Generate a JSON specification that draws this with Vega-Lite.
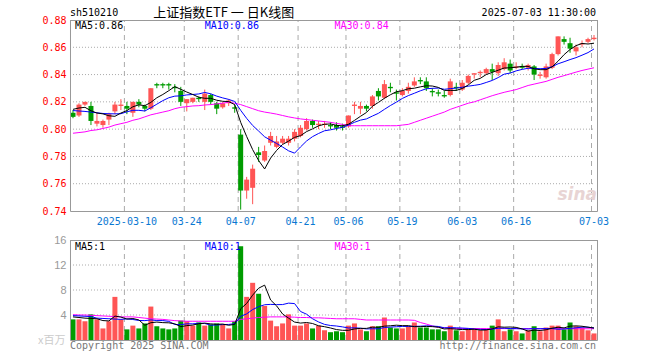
{
  "$schema": "https://vega.github.io/schema/vega-lite/v6.json",
  "autosize": {"type": "none"},
  "padding": {"left": 70, "top": 20, "right": 590, "bottom": 340},
  "background": "#ffffff",
  "spacing": 29,
  "bounds": "flush",
  "config": {
    "view": {"stroke": "#999999", "strokeWidth": 1},
    "axis": {"labelFont": "DejaVu Sans Mono", "labelFontSize": 10, "ticks": false, "domain": false, "grid": false, "labelFlush": false, "labelOverlap": false},
    "text": {"font": "DejaVu Sans Mono", "fontSize": 10}
  },
  "datasets": {
    "k": [
      {"d":"2025-02-25","o":0.812,"h":0.814,"l":0.808,"c":0.809,"m5":0.8145,"m10":0.8136,"m30":0.797,"v":3.3,"v5":3.7,"v10":3.9,"v30":4.05},
      {"d":"2025-02-26","o":0.810,"h":0.819,"l":0.809,"c":0.818,"m5":0.8155,"m10":0.8133,"m30":0.7975,"v":3.3,"v5":3.6,"v10":3.85,"v30":4.0},
      {"d":"2025-02-27","o":0.818,"h":0.820,"l":0.817,"c":0.820,"m5":0.816,"m10":0.813,"m30":0.798,"v":3.0,"v5":3.5,"v10":3.8,"v30":4.0},
      {"d":"2025-02-28","o":0.817,"h":0.820,"l":0.803,"c":0.806,"m5":0.8135,"m10":0.8125,"m30":0.799,"v":4.1,"v5":3.45,"v10":3.75,"v30":3.95},
      {"d":"2025-03-03","o":0.804,"h":0.812,"l":0.802,"c":0.806,"m5":0.8118,"m10":0.812,"m30":0.7995,"v":3.3,"v5":3.4,"v10":3.5,"v30":3.9},
      {"d":"2025-03-04","o":0.803,"h":0.807,"l":0.801,"c":0.806,"m5":0.8112,"m10":0.8115,"m30":0.8005,"v":1.85,"v5":3.11,"v10":3.45,"v30":3.85},
      {"d":"2025-03-05","o":0.807,"h":0.812,"l":0.803,"c":0.811,"m5":0.8098,"m10":0.8113,"m30":0.8015,"v":3.0,"v5":3.05,"v10":3.4,"v30":3.8},
      {"d":"2025-03-06","o":0.813,"h":0.820,"l":0.811,"c":0.818,"m5":0.8094,"m10":0.8112,"m30":0.803,"v":6.9,"v5":3.83,"v10":3.35,"v30":3.75},
      {"d":"2025-03-07","o":0.817,"h":0.822,"l":0.814,"c":0.818,"m5":0.8118,"m10":0.8113,"m30":0.804,"v":3.3,"v5":3.67,"v10":3.3,"v30":3.7},
      {"d":"2025-03-10","o":0.817,"h":0.820,"l":0.811,"c":0.815,"m5":0.8136,"m10":0.8127,"m30":0.805,"v":1.7,"v5":3.35,"v10":3.38,"v30":3.7},
      {"d":"2025-03-11","o":0.812,"h":0.820,"l":0.809,"c":0.820,"m5":0.8164,"m10":0.8138,"m30":0.8065,"v":2.3,"v5":3.44,"v10":3.28,"v30":3.7},
      {"d":"2025-03-12","o":0.820,"h":0.822,"l":0.816,"c":0.818,"m5":0.8178,"m10":0.8138,"m30":0.8075,"v":1.85,"v5":3.21,"v10":3.13,"v30":3.6},
      {"d":"2025-03-13","o":0.817,"h":0.818,"l":0.813,"c":0.815,"m5":0.8172,"m10":0.8133,"m30":0.809,"v":2.65,"v5":2.36,"v10":3.1,"v30":3.5},
      {"d":"2025-03-14","o":0.815,"h":0.830,"l":0.814,"c":0.830,"m5":0.8196,"m10":0.8157,"m30":0.8105,"v":5.35,"v5":2.77,"v10":3.22,"v30":3.4},
      {"d":"2025-03-17","o":0.833,"h":0.834,"l":0.830,"c":0.832,"m5":0.823,"m10":0.8183,"m30":0.8115,"v":2.2,"v5":2.87,"v10":3.11,"v30":3.35},
      {"d":"2025-03-18","o":0.833,"h":0.834,"l":0.830,"c":0.832,"m5":0.8254,"m10":0.8209,"m30":0.8125,"v":1.85,"v5":2.78,"v10":3.11,"v30":3.3},
      {"d":"2025-03-19","o":0.833,"h":0.834,"l":0.829,"c":0.832,"m5":0.8282,"m10":0.823,"m30":0.8135,"v":1.7,"v5":2.75,"v10":2.98,"v30":3.2},
      {"d":"2025-03-20","o":0.831,"h":0.833,"l":0.827,"c":0.830,"m5":0.8312,"m10":0.8242,"m30":0.815,"v":1.85,"v5":2.59,"v10":2.48,"v30":3.1},
      {"d":"2025-03-21","o":0.828,"h":0.831,"l":0.817,"c":0.820,"m5":0.8292,"m10":0.8244,"m30":0.816,"v":3.1,"v5":2.14,"v10":2.46,"v30":3.05},
      {"d":"2025-03-24","o":0.819,"h":0.822,"l":0.813,"c":0.822,"m5":0.8272,"m10":0.8251,"m30":0.8165,"v":3.0,"v5":2.3,"v10":2.59,"v30":3.0},
      {"d":"2025-03-25","o":0.820,"h":0.823,"l":0.819,"c":0.823,"m5":0.8254,"m10":0.8254,"m30":0.817,"v":2.3,"v5":2.39,"v10":2.59,"v30":3.0},
      {"d":"2025-03-26","o":0.823,"h":0.824,"l":0.820,"c":0.822,"m5":0.8234,"m10":0.8258,"m30":0.8172,"v":2.8,"v5":2.61,"v10":2.68,"v30":3.0},
      {"d":"2025-03-27","o":0.820,"h":0.829,"l":0.814,"c":0.826,"m5":0.8226,"m10":0.8269,"m30":0.8177,"v":2.3,"v5":2.7,"v10":2.65,"v30":3.0},
      {"d":"2025-03-28","o":0.825,"h":0.826,"l":0.818,"c":0.820,"m5":0.8226,"m10":0.8259,"m30":0.818,"v":2.5,"v5":2.58,"v10":2.36,"v30":3.0},
      {"d":"2025-03-31","o":0.819,"h":0.820,"l":0.811,"c":0.815,"m5":0.8212,"m10":0.8242,"m30":0.8185,"v":2.65,"v5":2.51,"v10":2.41,"v30":3.0},
      {"d":"2025-04-01","o":0.816,"h":0.820,"l":0.815,"c":0.819,"m5":0.8204,"m10":0.8229,"m30":0.819,"v":2.5,"v5":2.55,"v10":2.47,"v30":3.0},
      {"d":"2025-04-02","o":0.819,"h":0.822,"l":0.817,"c":0.821,"m5":0.8202,"m10":0.8218,"m30":0.8198,"v":1.85,"v5":2.36,"v10":2.49,"v30":3.0},
      {"d":"2025-04-03","o":0.816,"h":0.818,"l":0.812,"c":0.815,"m5":0.818,"m10":0.8203,"m30":0.819,"v":3.0,"v5":2.5,"v10":2.6,"v30":3.0},
      {"d":"2025-04-07","o":0.796,"h":0.800,"l":0.741,"c":0.755,"m5":0.805,"m10":0.8138,"m30":0.818,"v":15.0,"v5":5.0,"v10":3.79,"v30":3.3},
      {"d":"2025-04-08","o":0.755,"h":0.765,"l":0.749,"c":0.763,"m5":0.7946,"m10":0.8079,"m30":0.8165,"v":6.9,"v5":5.85,"v10":4.18,"v30":3.4},
      {"d":"2025-04-09","o":0.757,"h":0.774,"l":0.745,"c":0.771,"m5":0.785,"m10":0.8027,"m30":0.815,"v":9.15,"v5":7.18,"v10":4.87,"v30":3.5},
      {"d":"2025-04-10","o":0.783,"h":0.787,"l":0.776,"c":0.781,"m5":0.777,"m10":0.7986,"m30":0.8135,"v":7.4,"v5":8.29,"v10":5.33,"v30":3.6},
      {"d":"2025-04-11","o":0.777,"h":0.788,"l":0.776,"c":0.784,"m5":0.7708,"m10":0.7944,"m30":0.8125,"v":5.45,"v5":8.78,"v10":5.64,"v30":3.65},
      {"d":"2025-04-14","o":0.790,"h":0.798,"l":0.788,"c":0.795,"m5":0.7788,"m10":0.7919,"m30":0.8118,"v":3.1,"v5":6.4,"v10":5.7,"v30":3.7},
      {"d":"2025-04-15","o":0.787,"h":0.795,"l":0.786,"c":0.791,"m5":0.7844,"m10":0.7895,"m30":0.811,"v":2.2,"v5":5.46,"v10":5.66,"v30":3.7},
      {"d":"2025-04-16","o":0.790,"h":0.795,"l":0.789,"c":0.793,"m5":0.7888,"m10":0.7869,"m30":0.810,"v":2.65,"v5":4.16,"v10":5.67,"v30":3.7},
      {"d":"2025-04-17","o":0.790,"h":0.795,"l":0.788,"c":0.793,"m5":0.7912,"m10":0.7841,"m30":0.809,"v":4.1,"v5":3.5,"v10":5.9,"v30":3.7},
      {"d":"2025-04-18","o":0.793,"h":0.800,"l":0.791,"c":0.798,"m5":0.794,"m10":0.7824,"m30":0.8082,"v":2.3,"v5":2.87,"v10":5.83,"v30":3.65},
      {"d":"2025-04-21","o":0.795,"h":0.803,"l":0.794,"c":0.801,"m5":0.7952,"m10":0.787,"m30":0.8075,"v":2.3,"v5":2.71,"v10":4.56,"v30":3.6},
      {"d":"2025-04-22","o":0.800,"h":0.808,"l":0.799,"c":0.806,"m5":0.7982,"m10":0.7913,"m30":0.807,"v":2.65,"v5":2.8,"v10":4.13,"v30":3.6},
      {"d":"2025-04-23","o":0.806,"h":0.807,"l":0.801,"c":0.803,"m5":0.8002,"m10":0.7945,"m30":0.8065,"v":1.85,"v5":2.64,"v10":3.4,"v30":3.55},
      {"d":"2025-04-24","o":0.803,"h":0.806,"l":0.800,"c":0.804,"m5":0.8024,"m10":0.7968,"m30":0.806,"v":2.3,"v5":2.28,"v10":2.89,"v30":3.55},
      {"d":"2025-04-25","o":0.803,"h":0.806,"l":0.801,"c":0.804,"m5":0.8036,"m10":0.7988,"m30":0.8055,"v":1.55,"v5":2.13,"v10":2.5,"v30":3.5},
      {"d":"2025-04-28","o":0.803,"h":0.805,"l":0.800,"c":0.802,"m5":0.8038,"m10":0.7995,"m30":0.805,"v":1.25,"v5":1.92,"v10":2.32,"v30":3.45},
      {"d":"2025-04-29","o":0.803,"h":0.805,"l":0.799,"c":0.801,"m5":0.8028,"m10":0.8005,"m30":0.8042,"v":1.4,"v5":1.67,"v10":2.24,"v30":3.4},
      {"d":"2025-04-30","o":0.802,"h":0.804,"l":0.799,"c":0.801,"m5":0.8024,"m10":0.8013,"m30":0.8035,"v":1.25,"v5":1.55,"v10":2.1,"v30":3.4},
      {"d":"2025-05-06","o":0.802,"h":0.810,"l":0.801,"c":0.810,"m5":0.8036,"m10":0.803,"m30":0.8025,"v":2.3,"v5":1.55,"v10":1.92,"v30":3.4},
      {"d":"2025-05-07","o":0.817,"h":0.820,"l":0.811,"c":0.818,"m5":0.8064,"m10":0.805,"m30":0.8025,"v":2.65,"v5":1.77,"v10":1.95,"v30":3.4},
      {"d":"2025-05-08","o":0.815,"h":0.820,"l":0.811,"c":0.817,"m5":0.8094,"m10":0.8066,"m30":0.8025,"v":1.7,"v5":1.86,"v10":1.89,"v30":3.3},
      {"d":"2025-05-09","o":0.817,"h":0.818,"l":0.813,"c":0.815,"m5":0.8122,"m10":0.8075,"m30":0.8025,"v":1.4,"v5":1.86,"v10":1.77,"v30":3.2},
      {"d":"2025-05-12","o":0.817,"h":0.825,"l":0.815,"c":0.824,"m5":0.8168,"m10":0.8096,"m30":0.8025,"v":2.2,"v5":2.05,"v10":1.8,"v30":3.2},
      {"d":"2025-05-13","o":0.828,"h":0.830,"l":0.821,"c":0.824,"m5":0.8196,"m10":0.8116,"m30":0.8025,"v":2.2,"v5":2.03,"v10":1.79,"v30":3.2},
      {"d":"2025-05-14","o":0.823,"h":0.836,"l":0.822,"c":0.833,"m5":0.8226,"m10":0.8145,"m30":0.8025,"v":3.6,"v5":2.22,"v10":2.0,"v30":3.2},
      {"d":"2025-05-15","o":0.831,"h":0.834,"l":0.827,"c":0.830,"m5":0.8252,"m10":0.8173,"m30":0.8025,"v":2.0,"v5":2.28,"v10":2.07,"v30":3.2},
      {"d":"2025-05-16","o":0.827,"h":0.829,"l":0.821,"c":0.826,"m5":0.8274,"m10":0.8198,"m30":0.8025,"v":1.85,"v5":2.37,"v10":2.12,"v30":3.2},
      {"d":"2025-05-19","o":0.825,"h":0.830,"l":0.824,"c":0.828,"m5":0.8282,"m10":0.8225,"m30":0.803,"v":1.85,"v5":2.3,"v10":2.18,"v30":3.2},
      {"d":"2025-05-20","o":0.828,"h":0.834,"l":0.826,"c":0.831,"m5":0.8296,"m10":0.8246,"m30":0.8035,"v":2.2,"v5":2.3,"v10":2.17,"v30":3.2},
      {"d":"2025-05-21","o":0.832,"h":0.838,"l":0.831,"c":0.835,"m5":0.830,"m10":0.8263,"m30":0.805,"v":2.8,"v5":2.14,"v10":2.18,"v30":3.15},
      {"d":"2025-05-22","o":0.836,"h":0.838,"l":0.833,"c":0.835,"m5":0.831,"m10":0.8281,"m30":0.8065,"v":2.0,"v5":2.14,"v10":2.21,"v30":2.8},
      {"d":"2025-05-23","o":0.835,"h":0.838,"l":0.828,"c":0.830,"m5":0.8318,"m10":0.8296,"m30":0.808,"v":2.0,"v5":2.17,"v10":2.27,"v30":2.55},
      {"d":"2025-05-26","o":0.828,"h":0.830,"l":0.824,"c":0.827,"m5":0.8316,"m10":0.8299,"m30":0.8095,"v":1.7,"v5":2.14,"v10":2.22,"v30":2.25},
      {"d":"2025-05-27","o":0.827,"h":0.829,"l":0.824,"c":0.826,"m5":0.8306,"m10":0.8301,"m30":0.811,"v":1.7,"v5":2.04,"v10":2.17,"v30":2.05},
      {"d":"2025-05-28","o":0.825,"h":0.828,"l":0.823,"c":0.824,"m5":0.8284,"m10":0.8292,"m30":0.8125,"v":1.4,"v5":1.76,"v10":1.95,"v30":1.95},
      {"d":"2025-05-29","o":0.825,"h":0.837,"l":0.824,"c":0.835,"m5":0.8284,"m10":0.8297,"m30":0.8145,"v":2.3,"v5":1.82,"v10":1.98,"v30":1.9},
      {"d":"2025-05-30","o":0.831,"h":0.834,"l":0.828,"c":0.830,"m5":0.8284,"m10":0.8301,"m30":0.816,"v":1.55,"v5":1.73,"v10":1.95,"v30":1.85},
      {"d":"2025-06-03","o":0.829,"h":0.836,"l":0.828,"c":0.834,"m5":0.8298,"m10":0.8307,"m30":0.8175,"v":1.4,"v5":1.67,"v10":1.91,"v30":1.85},
      {"d":"2025-06-04","o":0.834,"h":0.840,"l":0.833,"c":0.839,"m5":0.8324,"m10":0.8315,"m30":0.819,"v":1.7,"v5":1.67,"v10":1.86,"v30":1.84},
      {"d":"2025-06-05","o":0.840,"h":0.841,"l":0.837,"c":0.841,"m5":0.8358,"m10":0.8321,"m30":0.820,"v":1.7,"v5":1.73,"v10":1.75,"v30":1.84},
      {"d":"2025-06-06","o":0.841,"h":0.843,"l":0.838,"c":0.842,"m5":0.8372,"m10":0.8328,"m30":0.8215,"v":1.55,"v5":1.58,"v10":1.7,"v30":1.83},
      {"d":"2025-06-09","o":0.841,"h":0.845,"l":0.840,"c":0.844,"m5":0.840,"m10":0.8342,"m30":0.823,"v":1.7,"v5":1.61,"v10":1.67,"v30":1.83},
      {"d":"2025-06-10","o":0.844,"h":0.848,"l":0.836,"c":0.842,"m5":0.8416,"m10":0.8357,"m30":0.8245,"v":2.3,"v5":1.79,"v10":1.73,"v30":1.83},
      {"d":"2025-06-11","o":0.841,"h":0.849,"l":0.839,"c":0.847,"m5":0.8432,"m10":0.8378,"m30":0.8258,"v":3.3,"v5":2.11,"v10":1.89,"v30":1.83},
      {"d":"2025-06-12","o":0.844,"h":0.852,"l":0.843,"c":0.849,"m5":0.8448,"m10":0.8403,"m30":0.827,"v":1.4,"v5":2.05,"v10":1.89,"v30":1.82},
      {"d":"2025-06-13","o":0.848,"h":0.851,"l":0.841,"c":0.843,"m5":0.845,"m10":0.8411,"m30":0.828,"v":1.7,"v5":2.08,"v10":1.83,"v30":1.82},
      {"d":"2025-06-16","o":0.845,"h":0.849,"l":0.844,"c":0.846,"m5":0.8454,"m10":0.8427,"m30":0.829,"v":1.4,"v5":2.02,"v10":1.82,"v30":1.82},
      {"d":"2025-06-17","o":0.846,"h":0.848,"l":0.844,"c":0.845,"m5":0.846,"m10":0.8438,"m30":0.8305,"v":1.05,"v5":1.77,"v10":1.78,"v30":1.82},
      {"d":"2025-06-18","o":0.845,"h":0.848,"l":0.843,"c":0.847,"m5":0.846,"m10":0.8446,"m30":0.832,"v":1.55,"v5":1.42,"v10":1.77,"v30":1.82},
      {"d":"2025-06-19","o":0.846,"h":0.847,"l":0.836,"c":0.840,"m5":0.8442,"m10":0.8445,"m30":0.833,"v":2.2,"v5":1.58,"v10":1.82,"v30":1.81},
      {"d":"2025-06-20","o":0.839,"h":0.842,"l":0.837,"c":0.840,"m5":0.8436,"m10":0.8443,"m30":0.834,"v":1.4,"v5":1.52,"v10":1.8,"v30":1.81},
      {"d":"2025-06-23","o":0.838,"h":0.848,"l":0.837,"c":0.846,"m5":0.8436,"m10":0.8445,"m30":0.835,"v":2.0,"v5":1.64,"v10":1.83,"v30":1.81},
      {"d":"2025-06-24","o":0.845,"h":0.856,"l":0.844,"c":0.855,"m5":0.8456,"m10":0.8458,"m30":0.8365,"v":2.3,"v5":1.89,"v10":1.83,"v30":1.81},
      {"d":"2025-06-25","o":0.855,"h":0.868,"l":0.854,"c":0.868,"m5":0.8498,"m10":0.8479,"m30":0.838,"v":2.3,"v5":2.04,"v10":1.73,"v30":1.81},
      {"d":"2025-06-26","o":0.866,"h":0.868,"l":0.862,"c":0.864,"m5":0.8546,"m10":0.8494,"m30":0.8392,"v":1.7,"v5":1.94,"v10":1.76,"v30":1.8},
      {"d":"2025-06-27","o":0.863,"h":0.867,"l":0.856,"c":0.859,"m5":0.8584,"m10":0.851,"m30":0.8405,"v":2.8,"v5":2.22,"v10":1.87,"v30":1.8},
      {"d":"2025-06-30","o":0.857,"h":0.862,"l":0.854,"c":0.860,"m5":0.8612,"m10":0.8524,"m30":0.8418,"v":2.2,"v5":2.26,"v10":1.95,"v30":1.8},
      {"d":"2025-07-01","o":0.862,"h":0.865,"l":0.860,"c":0.863,"m5":0.8628,"m10":0.8542,"m30":0.843,"v":2.0,"v5":2.2,"v10":2.05,"v30":1.8},
      {"d":"2025-07-02","o":0.864,"h":0.867,"l":0.863,"c":0.866,"m5":0.8624,"m10":0.8561,"m30":0.844,"v":1.55,"v5":2.05,"v10":2.05,"v30":1.8},
      {"d":"2025-07-03","o":0.866,"h":0.869,"l":0.865,"c":0.867,"m5":0.863,"m10":0.8588,"m30":0.845,"v":1.05,"v5":1.92,"v10":1.93,"v30":1.8}
    ]
  },
  "vconcat": [
    {
      "width": 527,
      "height": 191,
      "resolve": {"axis": {"x": "independent", "y": "independent"}},
      "layer": [
        {
          "data": {"name": "k"},
          "transform": [{"filter": {"field": "d", "oneOf": ["2025-03-10","2025-03-24","2025-04-07","2025-04-21","2025-05-06","2025-05-19","2025-06-03","2025-06-16","2025-07-03"]}}],
          "mark": {"type": "rule", "color": "#aaaaaa", "strokeWidth": 1, "strokeDash": [5, 4], "xOffset": -2.5},
          "encoding": {"x": {"field": "d", "type": "ordinal", "axis": null}, "y": {"datum": 0.74, "type": "quantitative", "axis": null}, "y2": {"datum": 0.88}}
        },
        {"data": {"name": "k"}, "mark": {"type": "line", "color": "#aaaaaa", "strokeWidth": 1, "strokeDash": [1, 2]}, "encoding": {"x": {"field": "d", "type": "ordinal", "axis": null}, "y": {"datum": 0.76, "type": "quantitative", "axis": null}}},
        {"data": {"name": "k"}, "mark": {"type": "line", "color": "#aaaaaa", "strokeWidth": 1, "strokeDash": [1, 2]}, "encoding": {"x": {"field": "d", "type": "ordinal", "axis": null}, "y": {"datum": 0.78, "type": "quantitative", "axis": null}}},
        {"data": {"name": "k"}, "mark": {"type": "line", "color": "#aaaaaa", "strokeWidth": 1, "strokeDash": [1, 2]}, "encoding": {"x": {"field": "d", "type": "ordinal", "axis": null}, "y": {"datum": 0.80, "type": "quantitative", "axis": null}}},
        {"data": {"name": "k"}, "mark": {"type": "line", "color": "#aaaaaa", "strokeWidth": 1, "strokeDash": [1, 2]}, "encoding": {"x": {"field": "d", "type": "ordinal", "axis": null}, "y": {"datum": 0.82, "type": "quantitative", "axis": null}}},
        {"data": {"name": "k"}, "mark": {"type": "line", "color": "#aaaaaa", "strokeWidth": 1, "strokeDash": [1, 2]}, "encoding": {"x": {"field": "d", "type": "ordinal", "axis": null}, "y": {"datum": 0.84, "type": "quantitative", "axis": null}}},
        {"data": {"name": "k"}, "mark": {"type": "line", "color": "#aaaaaa", "strokeWidth": 1, "strokeDash": [1, 2]}, "encoding": {"x": {"field": "d", "type": "ordinal", "axis": null}, "y": {"datum": 0.86, "type": "quantitative", "axis": null}}},
        {
          "data": {"name": "k"},
          "mark": {"type": "rule", "strokeWidth": 1},
          "encoding": {
            "x": {"field": "d", "type": "ordinal", "scale": {"type": "band", "paddingInner": 0, "paddingOuter": 0},
              "axis": {"orient": "bottom", "title": null, "values": ["2025-03-10","2025-03-24","2025-04-07","2025-04-21","2025-05-06","2025-05-19","2025-06-03","2025-06-16","2025-07-03"],
                "labelExpr": "datum.value == '2025-03-10' ? datum.value : substring(datum.value, 5)",
                "bandPosition": 0.07, "labelAngle": 0, "labelColor": "#0a78d2", "labelPadding": 5, "labelOverlap": false, "grid": false}},
            "y": {"field": "l", "type": "quantitative", "scale": {"domain": [0.74, 0.88], "nice": false, "zero": false},
              "axis": {"orient": "left", "title": null, "values": [0.74, 0.76, 0.78, 0.8, 0.82, 0.84, 0.86, 0.88], "format": ".2f", "labelColor": "#ff0000", "labelPadding": 4, "labelOverlap": false, "grid": false}},
            "y2": {"field": "h"},
            "color": {"condition": {"test": "datum.c >= datum.o", "value": "#ff5555"}, "value": "#009c00"}
          }
        },
        {
          "data": {"name": "k"},
          "mark": {"type": "bar", "width": 5},
          "encoding": {
            "x": {"field": "d", "type": "ordinal", "axis": null},
            "y": {"field": "o", "type": "quantitative", "axis": null},
            "y2": {"field": "c"},
            "color": {"condition": {"test": "datum.c >= datum.o", "value": "#ff5555"}, "value": "#009c00"}
          }
        },
        {
          "data": {"name": "k"},
          "mark": {"type": "line", "color": "#ff00ff", "strokeWidth": 1},
          "encoding": {"x": {"field": "d", "type": "ordinal", "axis": null}, "y": {"field": "m30", "type": "quantitative", "axis": null}}
        },
        {
          "data": {"name": "k"},
          "mark": {"type": "line", "color": "#0000ff", "strokeWidth": 1},
          "encoding": {"x": {"field": "d", "type": "ordinal", "axis": null}, "y": {"field": "m10", "type": "quantitative", "axis": null}}
        },
        {
          "data": {"name": "k"},
          "mark": {"type": "line", "color": "#000000", "strokeWidth": 1},
          "encoding": {"x": {"field": "d", "type": "ordinal", "axis": null}, "y": {"field": "m5", "type": "quantitative", "axis": null}}
        },
        {
          "data": {"values": [{}]},
          "mark": {"type": "text", "align": "left", "baseline": "middle", "dx": -3, "color": "#000000"},
          "encoding": {"x": {"datum": "2025-02-25", "type": "ordinal", "axis": null}, "y": {"datum": 0.8851, "type": "quantitative", "axis": null}, "text": {"value": "sh510210"}}
        },
        {
          "data": {"values": [{}]},
          "mark": {"type": "text", "align": "center", "baseline": "middle", "dx": 1, "font": "Noto Sans CJK SC", "fontSize": 13, "color": "#000000"},
          "encoding": {"x": {"datum": "2025-04-01", "type": "ordinal", "axis": null}, "y": {"datum": 0.8851, "type": "quantitative", "axis": null}, "text": {"value": "上证指数ETF 一 日K线图"}}
        },
        {
          "data": {"values": [{}]},
          "mark": {"type": "text", "align": "right", "baseline": "middle", "dx": 2, "color": "#000000"},
          "encoding": {"x": {"datum": "2025-07-03", "type": "ordinal", "axis": null}, "y": {"datum": 0.8851, "type": "quantitative", "axis": null}, "text": {"value": "2025-07-03 11:30:00"}}
        },
        {
          "data": {"values": [{}]},
          "mark": {"type": "text", "align": "left", "baseline": "middle", "dx": 2, "color": "#000000"},
          "encoding": {"x": {"datum": "2025-02-25", "type": "ordinal", "axis": null}, "y": {"datum": 0.8754, "type": "quantitative", "axis": null}, "text": {"value": "MA5:0.86"}}
        },
        {
          "data": {"values": [{}]},
          "mark": {"type": "text", "align": "left", "baseline": "middle", "dx": 0, "color": "#0000ff"},
          "encoding": {"x": {"datum": "2025-03-27", "type": "ordinal", "axis": null}, "y": {"datum": 0.8754, "type": "quantitative", "axis": null}, "text": {"value": "MA10:0.86"}}
        },
        {
          "data": {"values": [{}]},
          "mark": {"type": "text", "align": "left", "baseline": "middle", "dx": -2, "color": "#ff00ff"},
          "encoding": {"x": {"datum": "2025-04-29", "type": "ordinal", "axis": null}, "y": {"datum": 0.8754, "type": "quantitative", "axis": null}, "text": {"value": "MA30:0.84"}}
        },
        {
          "data": {"values": [{}]},
          "mark": {"type": "text", "align": "right", "baseline": "middle", "dx": 3, "font": "DejaVu Sans", "fontSize": 17, "fontStyle": "italic", "fontWeight": "bold", "color": "#e8d4d4"},
          "encoding": {"x": {"datum": "2025-07-03", "type": "ordinal", "axis": null}, "y": {"datum": 0.7517, "type": "quantitative", "axis": null}, "text": {"value": "sina"}}
        },
        {"data": {"name": "k"}, "mark": {"type": "line", "color": "#999999", "strokeWidth": 1, "yOffset": 0.5}, "encoding": {"x": {"field": "d", "type": "ordinal", "axis": null}, "y": {"datum": 0.88, "type": "quantitative", "axis": null}}},
        {"data": {"name": "k"}, "mark": {"type": "line", "color": "#999999", "strokeWidth": 1, "yOffset": 0.5}, "encoding": {"x": {"field": "d", "type": "ordinal", "axis": null}, "y": {"datum": 0.74, "type": "quantitative", "axis": null}}},
        {"data": {"values": [{}]}, "mark": {"type": "rule", "color": "#999999", "strokeWidth": 1, "xOffset": -2.5}, "encoding": {"x": {"datum": "2025-02-25", "type": "ordinal", "axis": null}, "y": {"datum": 0.74, "type": "quantitative", "axis": null}, "y2": {"datum": 0.88}}},
        {"data": {"values": [{}]}, "mark": {"type": "rule", "color": "#999999", "strokeWidth": 1, "xOffset": 3.5}, "encoding": {"x": {"datum": "2025-07-03", "type": "ordinal", "axis": null}, "y": {"datum": 0.74, "type": "quantitative", "axis": null}, "y2": {"datum": 0.88}}}
      ]
    },
    {
      "width": 527,
      "height": 100,
      "resolve": {"axis": {"x": "independent", "y": "independent"}},
      "layer": [
        {
          "data": {"name": "k"},
          "transform": [{"filter": {"field": "d", "oneOf": ["2025-03-10","2025-03-24","2025-04-07","2025-04-21","2025-05-06","2025-05-19","2025-06-03","2025-06-16","2025-07-03"]}}],
          "mark": {"type": "rule", "color": "#aaaaaa", "strokeWidth": 1, "strokeDash": [5, 4], "xOffset": -2.5},
          "encoding": {"x": {"field": "d", "type": "ordinal", "axis": null}, "y": {"datum": 0, "type": "quantitative", "axis": null}, "y2": {"datum": 16}}
        },
        {"data": {"name": "k"}, "mark": {"type": "line", "color": "#aaaaaa", "strokeWidth": 1, "strokeDash": [1, 2]}, "encoding": {"x": {"field": "d", "type": "ordinal", "axis": null}, "y": {"datum": 4, "type": "quantitative", "axis": null}}},
        {"data": {"name": "k"}, "mark": {"type": "line", "color": "#aaaaaa", "strokeWidth": 1, "strokeDash": [1, 2]}, "encoding": {"x": {"field": "d", "type": "ordinal", "axis": null}, "y": {"datum": 8, "type": "quantitative", "axis": null}}},
        {"data": {"name": "k"}, "mark": {"type": "line", "color": "#aaaaaa", "strokeWidth": 1, "strokeDash": [1, 2]}, "encoding": {"x": {"field": "d", "type": "ordinal", "axis": null}, "y": {"datum": 12, "type": "quantitative", "axis": null}}},
        {
          "data": {"name": "k"},
          "mark": {"type": "bar", "width": 5},
          "encoding": {
            "x": {"field": "d", "type": "ordinal", "scale": {"type": "band", "paddingInner": 0, "paddingOuter": 0}, "axis": null},
            "y": {"field": "v", "type": "quantitative", "scale": {"domain": [0, 16], "nice": false},
              "axis": {"orient": "left", "values": [4, 8, 12, 16], "labelColor": "#999999", "labelFont": "Liberation Sans", "labelFontSize": 11, "labelPadding": 4, "labelOverlap": false, "grid": false,
                "title": "x百万", "titleAngle": 0, "titleX": -5, "titleY": 100, "titleAlign": "right", "titleBaseline": "middle", "titleColor": "#cccccc", "titleFont": "Noto Sans CJK SC", "titleFontSize": 11, "titleFontWeight": "normal"}},
            "color": {"condition": {"test": "datum.c >= datum.o", "value": "#ff5555"}, "value": "#009c00"}
          }
        },
        {
          "data": {"name": "k"},
          "mark": {"type": "line", "color": "#ff00ff", "strokeWidth": 1},
          "encoding": {"x": {"field": "d", "type": "ordinal", "axis": null}, "y": {"field": "v30", "type": "quantitative", "axis": null}}
        },
        {
          "data": {"name": "k"},
          "mark": {"type": "line", "color": "#0000ff", "strokeWidth": 1},
          "encoding": {"x": {"field": "d", "type": "ordinal", "axis": null}, "y": {"field": "v10", "type": "quantitative", "axis": null}}
        },
        {
          "data": {"name": "k"},
          "mark": {"type": "line", "color": "#000000", "strokeWidth": 1},
          "encoding": {"x": {"field": "d", "type": "ordinal", "axis": null}, "y": {"field": "v5", "type": "quantitative", "axis": null}}
        },
        {
          "data": {"values": [{}]},
          "mark": {"type": "text", "align": "left", "baseline": "middle", "dx": 2, "color": "#000000"},
          "encoding": {"x": {"datum": "2025-02-25", "type": "ordinal", "axis": null}, "y": {"datum": 14.96, "type": "quantitative", "axis": null}, "text": {"value": "MA5:1"}}
        },
        {
          "data": {"values": [{}]},
          "mark": {"type": "text", "align": "left", "baseline": "middle", "dx": 0, "color": "#0000ff"},
          "encoding": {"x": {"datum": "2025-03-27", "type": "ordinal", "axis": null}, "y": {"datum": 14.96, "type": "quantitative", "axis": null}, "text": {"value": "MA10:1"}}
        },
        {
          "data": {"values": [{}]},
          "mark": {"type": "text", "align": "left", "baseline": "middle", "dx": -2, "color": "#ff00ff"},
          "encoding": {"x": {"datum": "2025-04-29", "type": "ordinal", "axis": null}, "y": {"datum": 14.96, "type": "quantitative", "axis": null}, "text": {"value": "MA30:1"}}
        },
        {
          "data": {"values": [{}]},
          "mark": {"type": "text", "align": "left", "baseline": "middle", "dx": -3, "color": "#777777"},
          "encoding": {"x": {"datum": "2025-02-25", "type": "ordinal", "axis": null}, "y": {"datum": -0.96, "type": "quantitative", "axis": null}, "text": {"value": "Copyright 2025 SINA.COM"}}
        },
        {
          "data": {"values": [{}]},
          "mark": {"type": "text", "align": "right", "baseline": "middle", "dx": 2, "color": "#777777"},
          "encoding": {"x": {"datum": "2025-07-03", "type": "ordinal", "axis": null}, "y": {"datum": -0.96, "type": "quantitative", "axis": null}, "text": {"value": "http://finance.sina.com.cn"}}
        },
        {"data": {"name": "k"}, "mark": {"type": "line", "color": "#999999", "strokeWidth": 1, "yOffset": 0.5}, "encoding": {"x": {"field": "d", "type": "ordinal", "axis": null}, "y": {"datum": 16, "type": "quantitative", "axis": null}}},
        {"data": {"name": "k"}, "mark": {"type": "line", "color": "#999999", "strokeWidth": 1, "yOffset": 0.5}, "encoding": {"x": {"field": "d", "type": "ordinal", "axis": null}, "y": {"datum": 0, "type": "quantitative", "axis": null}}},
        {"data": {"values": [{}]}, "mark": {"type": "rule", "color": "#999999", "strokeWidth": 1, "xOffset": -2.5}, "encoding": {"x": {"datum": "2025-02-25", "type": "ordinal", "axis": null}, "y": {"datum": 0, "type": "quantitative", "axis": null}, "y2": {"datum": 16}}},
        {"data": {"values": [{}]}, "mark": {"type": "rule", "color": "#999999", "strokeWidth": 1, "xOffset": 3.5}, "encoding": {"x": {"datum": "2025-07-03", "type": "ordinal", "axis": null}, "y": {"datum": 0, "type": "quantitative", "axis": null}, "y2": {"datum": 16}}}
      ]
    }
  ]
}
